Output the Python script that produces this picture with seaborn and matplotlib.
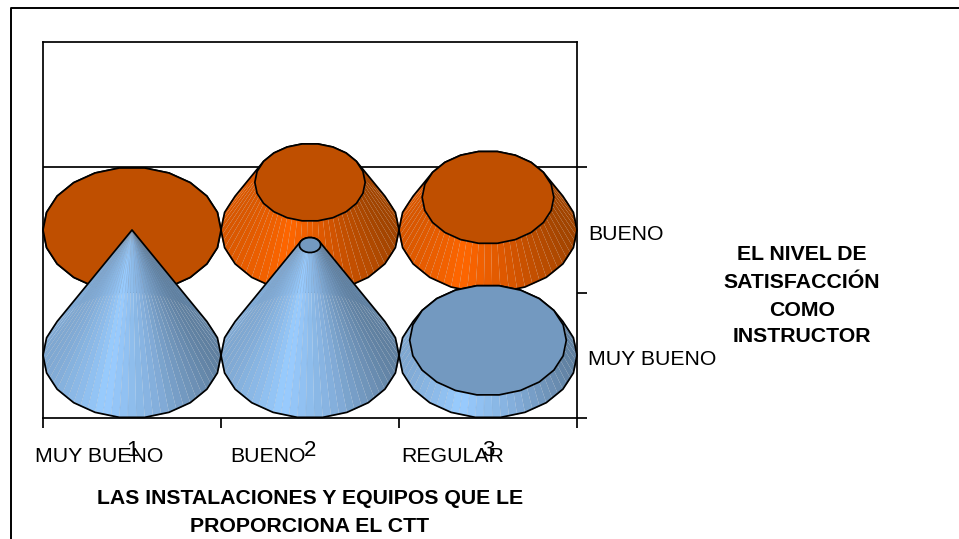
import numpy as np
import pandas as pd
import matplotlib
matplotlib.use('Agg')
import matplotlib.pyplot as plt
import seaborn as sns

# ─── Data ────────────────────────────────────────────────────────────────────
CATEGORIES = ['1', '2', '3']
SERIES = ['MUY BUENO', 'BUENO']
MUY_BUENO = [1.00, 0.88, 0.12]
BUENO = [0.00, 0.38, 0.26]
CAT_NAMES = ['MUY BUENO', 'BUENO', 'REGULAR']
X_TITLE = ['LAS INSTALACIONES Y EQUIPOS QUE LE', 'PROPORCIONA EL CTT']
Z_TITLE = ['EL NIVEL DE', 'SATISFACCIÓN', 'COMO', 'INSTRUCTOR']

# ─── Styles ──────────────────────────────────────────────────────────────────
W, H = 959, 539
LW = 1.25
N_SIDES = 22    # outline polygon
N_SUB = 3       # shaded facets per outline side
RADIUS = 0.5

sns.set_theme(style='ticks')
plt.rcParams['font.family'] = ['Liberation Sans', 'DejaVu Sans']

side_colors = {
    'MUY BUENO': sns.blend_palette(['#7FA8D2', '#99CCFF', '#82ACD8', '#5F7F9F'], 100),
    'BUENO': sns.blend_palette(['#D95700', '#FF6600', '#D35400', '#A04400'], 100),
}
cap_colors = {'MUY BUENO': '#7399C0', 'BUENO': '#BF4F00'}


def convex_hull(points):
    pts = sorted(set(map(tuple, points)))
    def half(seq):
        out = []
        for p in seq:
            while len(out) > 1 and ((out[-1][0] - out[-2][0]) * (p[1] - out[-2][1])
                                    - (out[-1][1] - out[-2][1]) * (p[0] - out[-2][0])) <= 0:
                out.pop()
            out.append(p)
        return out[:-1]
    return np.array(half(pts) + half(pts[::-1]))


def draw_cone(ax, cx, cy, value, series, z):
    """Faceted frustum: the radius shrinks linearly with the value."""
    top_r = RADIUS * (1 - value)
    top_y = cy + value
    th = np.linspace(0, 2 * np.pi, N_SIDES * N_SUB + 1)
    base = np.c_[cx + RADIUS * np.cos(th), cy + RADIUS * np.sin(th)]
    top = np.c_[cx + top_r * np.cos(th), top_y + top_r * np.sin(th)]

    # back facets first so that the front ones end up on top
    mids = (th[:-1] + th[1:]) / 2
    for i in np.argsort(-np.sin(mids)):
        u = (np.cos(mids[i]) + 1) / 2
        color = side_colors[series][int(u * 99)]
        ax.fill([base[i, 0], base[i + 1, 0], top[i + 1, 0], top[i, 0]],
                [base[i, 1], base[i + 1, 1], top[i + 1, 1], top[i, 1]],
                color=color, lw=0, zorder=z, clip_on=False)
        # seams bunch together and darken towards the narrow end
        if np.sin(mids[i]) < 0:
            ax.plot([base[i, 0], top[i, 0]], [base[i, 1], top[i, 1]],
                    color='#808080', lw=0.25, alpha=0.3, zorder=z, clip_on=False)

    outline = np.r_[base[::N_SUB], top[::N_SUB]]
    hull = convex_hull(np.round(outline, 6))
    ax.fill(hull[:, 0], hull[:, 1], fill=False, ec='black', lw=LW, zorder=z + 0.1,
            joinstyle='round', clip_on=False)
    if top_r > 0:
        ax.fill(top[::N_SUB, 0], top[::N_SUB, 1], fc=cap_colors[series], ec='black',
                lw=LW, zorder=z + 0.2, clip_on=False)


df = pd.DataFrame({'category': CATEGORIES * 2,
                   'series': np.repeat(SERIES, len(CATEGORIES)),
                   'value': MUY_BUENO + BUENO})

fig = plt.figure(figsize=(W / 100, H / 100), dpi=100)
ax = fig.add_axes([43 / W, 1 - 418 / H, 534 / W, 376 / H])
ax.set_xlim(0, len(CATEGORIES))
ax.set_ylim(0, 3)

ax.axhline(2, color='black', lw=LW, zorder=1)

# back row first, each row stacked above the one behind it
for row, name in reversed(list(enumerate(SERIES))):
    sub = df[df['series'] == name]
    for col, value in enumerate(sub['value']):
        draw_cone(ax, col + 0.5, row + 0.5, value, name, z=3 + (len(SERIES) - row))

sns.despine(ax=ax, top=False, right=False)
for spine in ax.spines.values():
    spine.set_linewidth(LW)
    spine.set_color('black')
    spine.set_zorder(10)

# ─── Axes ────────────────────────────────────────────────────────────────────
ax.set_xticks(range(len(CATEGORIES) + 1))
ax.set_xticklabels([])
ax.set_xticks(np.arange(len(CATEGORIES)) + 0.5, minor=True)
ax.set_xticklabels(CATEGORIES, minor=True, fontsize=16, color='black')
ax.tick_params(axis='x', which='major', length=7.5, width=LW, color='black')
ax.tick_params(axis='x', which='minor', length=0, pad=15.5)

ax.yaxis.tick_right()
ax.set_yticks([0, 1, 2])
ax.set_yticklabels([])
# labels sit a little under the middle of each row
ax.set_yticks(np.arange(len(SERIES)) + 0.484, minor=True)
ax.set_yticklabels(SERIES, minor=True, fontsize=15.3, color='black')
ax.tick_params(axis='y', which='major', length=7.5, width=LW, color='black')
ax.tick_params(axis='y', which='minor', length=0, pad=8)

# ─── Free text ───────────────────────────────────────────────────────────────
for name, px in zip(CAT_NAMES, [35, 230, 401]):
    fig.text(px / W, 1 - 457 / H, name, fontsize=15.3, ha='left', va='center', color='black')
for line, py in zip(X_TITLE, [499, 527]):
    fig.text(310 / W, 1 - py / H, line, fontsize=15.3, fontweight='bold', ha='center',
             va='center', color='black')
for line, py in zip(Z_TITLE, [255, 283, 311, 336]):
    fig.text(802 / W, 1 - py / H, line, fontsize=15.3, fontweight='bold', ha='center',
             va='center', color='black')

# outer chart frame: only left and top edges fall inside the picture
fig.add_artist(plt.Line2D([11 / W, 11 / W, 1], [0, 1 - 8 / H, 1 - 8 / H],
                          color='black', lw=1.4, transform=fig.transFigure))

fig.savefig('out.png', dpi=100)
plt.close(fig)
